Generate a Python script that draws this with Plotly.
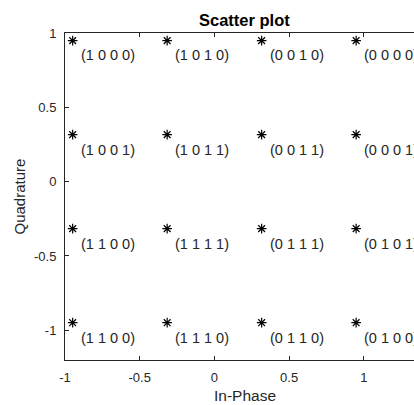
import plotly.graph_objects as go

i_vals = [-0.9487, -0.3162, 0.3162, 0.9487] * 4
q_vals = [0.9487] * 4 + [0.3162] * 4 + [-0.3162] * 4 + [-0.9487] * 4
labels = [
    "(1 0 0 0)", "(1 0 1 0)", "(0 0 1 0)", "(0 0 0 0)",
    "(1 0 0 1)", "(1 0 1 1)", "(0 0 1 1)", "(0 0 0 1)",
    "(1 1 0 0)", "(1 1 1 1)", "(0 1 1 1)", "(0 1 0 1)",
    "(1 1 0 0)", "(1 1 1 0)", "(0 1 1 0)", "(0 1 0 0)",
]
x_ticks = [-1, -0.5, 0, 0.5, 1]
y_ticks = [-1, -0.5, 0, 0.5, 1]

W, H = 414, 405
L, R, T, B = 65, 0, 33, 45
x_range = [-1, -1 + (W - L) / 149.4]
y_range = [-1.2, 1.0]

font = "Liberation Sans, Arial, sans-serif"
ink = "#262626"

fig = go.Figure()
fig.add_trace(go.Scatter(
    x=i_vals, y=q_vals, mode="markers",
    marker=dict(symbol="asterisk-open", size=8, color="black",
                line=dict(color="black", width=1.2)),
    hoverinfo="skip", showlegend=False, cliponaxis=False,
))

for xv, yv, lab in zip(i_vals, q_vals, labels):
    fig.add_annotation(x=xv + 0.042, y=yv - 0.1, xref="x", yref="y",
                       text=lab, showarrow=False, xanchor="left", yanchor="middle",
                       font=dict(family=font, size=14.5, color=ink))

plot_w = W - L - R
fig.add_annotation(x=(244 - L) / plot_w, y=1, xref="paper", yref="paper",
                   yshift=13, text="<b>Scatter plot</b>", showarrow=False,
                   xanchor="center", yanchor="middle",
                   font=dict(family=font, size=16.5, color="black"))
fig.add_annotation(x=(245 - L) / plot_w, y=0, xref="paper", yref="paper",
                   yshift=-35, text="In-Phase", showarrow=False,
                   xanchor="center", yanchor="middle",
                   font=dict(family=font, size=15.5, color=ink))
fig.add_annotation(x=(19 - L) / plot_w, y=0.5, xref="paper", yref="paper",
                   text="Quadrature", showarrow=False, textangle=-90,
                   xanchor="center", yanchor="middle",
                   font=dict(family=font, size=15, color=ink))

fig.update_layout(
    width=W, height=H,
    margin=dict(l=L, r=R, t=T, b=B, pad=0),
    paper_bgcolor="white", plot_bgcolor="white",
    font=dict(family=font, size=13, color=ink),
    xaxis=dict(range=x_range, tickvals=x_ticks, ticktext=[str(v) for v in x_ticks],
               showgrid=False, zeroline=False, showline=True, linecolor=ink, linewidth=1,
               ticks="inside", ticklen=4, tickcolor=ink, mirror="ticks",
               ticklabelstandoff=5,
               tickfont=dict(family=font, size=13, color=ink)),
    yaxis=dict(range=y_range, tickvals=y_ticks, ticktext=[str(v) for v in y_ticks],
               showgrid=False, zeroline=False, showline=True, linecolor=ink, linewidth=1,
               ticks="inside", ticklen=4, tickcolor=ink, mirror=False,
               ticklabelstandoff=5,
               tickfont=dict(family=font, size=13, color=ink)),
)

fig.write_html("out.html")
